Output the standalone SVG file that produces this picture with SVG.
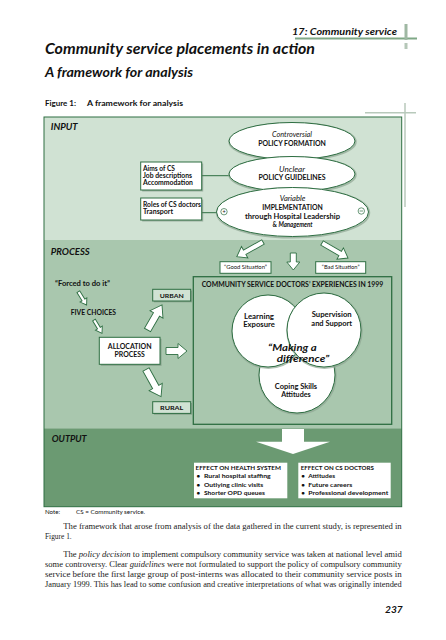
<svg xmlns="http://www.w3.org/2000/svg" width="446" height="640" viewBox="0 0 446 640">
<style>
.sans{font-family:"Lato","Liberation Sans",sans-serif;font-weight:bold;fill:#111}
.it{font-style:italic}
.norm{font-weight:normal}
.serif{font-family:"Liberation Serif","DejaVu Serif",serif;fill:#222;font-size:7.4px}
.box{fill:#fff;stroke:#2e6e42;stroke-width:1}
.shadow{fill:#5f7564;opacity:.45}
.arrow{fill:#fff;stroke:#2e6e42;stroke-width:.9;stroke-linejoin:miter}
.conn{stroke:#2e6e42;stroke-width:1;fill:none}
.ell{fill:#fff;stroke:#2e6e42;stroke-width:1}
.halo{fill:none;stroke:#8fa693;stroke-width:2.5;opacity:.7}
.c{text-anchor:middle}
</style>
<rect width="446" height="640" fill="#fff"/>
<!-- header -->
<g id="header">
<line x1="295" y1="38.5" x2="417" y2="38.5" stroke="#7fa886" stroke-width="2"/>
<rect x="404.5" y="24" width="3" height="16" fill="#9fb8a3"/>
<rect x="404.5" y="43" width="3" height="6" fill="#b5c7b8"/>
<text class="sans it" x="292" y="35" font-size="10" textLength="105" lengthAdjust="spacingAndGlyphs">17:  Community service</text>
<text class="sans it" x="45" y="54" font-size="16" textLength="270" lengthAdjust="spacingAndGlyphs">Community service placements in action</text>
<text class="sans it" x="45" y="77" font-size="13" textLength="148" lengthAdjust="spacingAndGlyphs">A framework for analysis</text>
<text class="sans" x="45" y="106" font-size="7" textLength="31" lengthAdjust="spacingAndGlyphs">Figure 1:</text>
<text class="sans" x="87" y="106" font-size="7" textLength="96" lengthAdjust="spacingAndGlyphs">A framework for analysis</text>
<line x1="365" y1="112.7" x2="416" y2="112.7" stroke="#b8c9bb" stroke-width="1.5"/>
<line x1="405" y1="103" x2="405" y2="207" stroke="#b8c9bb" stroke-width="1.5"/>
</g>
<!-- bands -->
<g id="figure-frame">
<rect x="44" y="117" width="357.7" height="123" fill="#d0e2d3"/>
<rect x="44" y="240" width="357.7" height="188.3" fill="#a9c7ae"/>
<rect x="44" y="428.3" width="357.7" height="78.4" fill="#6b9a72"/>
<rect x="44" y="117" width="357.7" height="389.7" fill="none" stroke="#2e6e42" stroke-width="1"/>
<text class="sans it" x="50.7" y="130" font-size="9" textLength="27" lengthAdjust="spacingAndGlyphs">INPUT</text>
<text class="sans it" x="50.7" y="255" font-size="9" textLength="39" lengthAdjust="spacingAndGlyphs">PROCESS</text>
<text class="sans it" x="51.7" y="442.3" font-size="9" textLength="35" lengthAdjust="spacingAndGlyphs">OUTPUT</text>
</g>
<!-- connectors -->
<g id="connectors">
<line class="conn" x1="201.7" y1="175.7" x2="229" y2="175.7"/>
<line class="conn" x1="201.7" y1="212.7" x2="218" y2="212.7"/>
<polygon class="arrow" transform="translate(263,242) rotate(150.8)" points="0,-2.5 21,-2.5 21,-6.5 30,0 21,6.5 21,2.5 0,2.5"/>
<polygon class="arrow" transform="translate(293.3,253) rotate(90)" points="0,-3 9,-3 9,-6.5 17,0 9,6.5 9,3 0,3"/>
<polygon class="arrow" transform="translate(322,243) rotate(30)" points="0,-2.5 21,-2.5 21,-6.5 30,0 21,6.5 21,2.5 0,2.5"/>
<polygon class="arrow" transform="translate(78.3,291.7) rotate(58)" points="0,-1.6 9.7,-1.6 9.7,-4 15.7,0 9.7,4 9.7,1.6 0,1.6"/>
<polygon class="arrow" transform="translate(94,320) rotate(59)" points="0,-1.6 9.5,-1.6 9.5,-4 15.5,0 9.5,4 9.5,1.6 0,1.6"/>
<polygon class="arrow" transform="translate(147.5,330) rotate(-60)" points="0,-3.5 18,-3.5 18,-7.5 29,0 18,7.5 18,3.5 0,3.5"/>
<polygon class="arrow" transform="translate(166,351) rotate(0)" points="0,-3.5 12,-3.5 12,-7.5 21,0 12,7.5 12,3.5 0,3.5"/>
<polygon class="arrow" transform="translate(146,369.5) rotate(61)" points="0,-3.5 20,-3.5 20,-7.5 31,0 20,7.5 20,3.5 0,3.5"/>
<polygon fill="#fff" points="282,429 304,429 304,441.7 330,441.7 293,454 256,441.7 282,441.7"/>
</g>
<!-- input boxes -->
<g id="aims">
<rect class="shadow" x="142.2" y="163.5" width="61" height="28"/>
<rect class="box" x="140.7" y="162" width="61" height="28"/>
<text class="sans" font-size="6.5" x="143" y="170.7" textLength="32" lengthAdjust="spacingAndGlyphs">Aims of CS</text>
<text class="sans" font-size="6.5" x="143" y="177.9" textLength="49" lengthAdjust="spacingAndGlyphs">Job descriptions</text>
<text class="sans" font-size="6.5" x="143" y="185.1" textLength="50" lengthAdjust="spacingAndGlyphs">Accommodation</text>
</g>
<g id="roles">
<rect class="shadow" x="142.2" y="199.5" width="61" height="22"/>
<rect class="box" x="140.7" y="198" width="61" height="22"/>
<text class="sans" font-size="6.5" x="143" y="206.7" textLength="58" lengthAdjust="spacingAndGlyphs">Roles of CS doctors</text>
<text class="sans" font-size="6.5" x="143" y="214" textLength="30" lengthAdjust="spacingAndGlyphs">Transport</text>
</g>
<g id="policy-formation">
<ellipse class="halo" cx="292.5" cy="141.8" rx="63" ry="18.5"/>
<ellipse class="ell" cx="292" cy="141" rx="63" ry="18.5"/>
<text class="sans it norm c" font-size="7" x="292" y="136.7" textLength="40" lengthAdjust="spacingAndGlyphs">Controversial</text>
<text class="sans c" font-size="6.5" x="292" y="145.7" textLength="67.7" lengthAdjust="spacingAndGlyphs">POLICY FORMATION</text>
</g>
<g id="policy-guidelines">
<ellipse class="halo" cx="292.5" cy="174.8" rx="63" ry="17.5"/>
<ellipse class="ell" cx="292" cy="174" rx="63" ry="17.5"/>
<text class="sans it norm c" font-size="7" x="292" y="171.7" textLength="26" lengthAdjust="spacingAndGlyphs">Unclear</text>
<text class="sans c" font-size="6.5" x="292" y="180" textLength="67" lengthAdjust="spacingAndGlyphs">POLICY GUIDELINES</text>
</g>
<g id="implementation">
<ellipse class="halo" cx="293" cy="212.8" rx="76" ry="24.5"/>
<ellipse class="ell" cx="292.5" cy="212" rx="76" ry="24.5"/>
<text class="sans it norm c" font-size="7" x="292.5" y="201" textLength="25.7" lengthAdjust="spacingAndGlyphs">Variable</text>
<text class="sans c" font-size="6.8" x="292.5" y="210" textLength="60.7" lengthAdjust="spacingAndGlyphs">IMPLEMENTATION</text>
<text class="sans c" font-size="6.8" x="292.5" y="219" textLength="95" lengthAdjust="spacingAndGlyphs">through Hospital Leadership</text>
<text class="sans c" font-size="6.8" x="292.5" y="227.3" textLength="40" lengthAdjust="spacingAndGlyphs">&amp; <tspan class="it">Management</tspan></text>
<circle cx="224" cy="211.7" r="3.2" fill="#fff" stroke="#2e6e42" stroke-width=".7"/>
<text class="sans c norm" font-size="5.5" x="224" y="213.6" fill="#2e6e42">+</text>
<circle cx="361.3" cy="211" r="3.2" fill="#fff" stroke="#2e6e42" stroke-width=".7"/>
<line x1="359.6" y1="211" x2="363" y2="211" stroke="#2e6e42" stroke-width=".7"/>
</g>
<!-- situation boxes -->
<g id="good-situation">
<rect class="box" x="220" y="261.7" width="51" height="11.6"/>
<text class="sans norm c" font-size="4.8" x="245.5" y="269.3" textLength="43" lengthAdjust="spacingAndGlyphs">“Good Situation”</text>
</g>
<g id="bad-situation">
<rect class="box" x="315.7" y="261.7" width="50" height="11.6"/>
<text class="sans norm c" font-size="4.8" x="340.7" y="269.3" textLength="37.7" lengthAdjust="spacingAndGlyphs">“Bad Situation”</text>
</g>
<!-- process -->
<g id="forced">
<text class="sans" font-size="6.5" x="55" y="286" textLength="55" lengthAdjust="spacingAndGlyphs">“Forced to do it”</text>
</g>
<g id="five-choices">
<text class="sans" font-size="6.5" x="70.7" y="315" textLength="45.3" lengthAdjust="spacingAndGlyphs">FIVE CHOICES</text>
</g>
<g id="allocation">
<rect class="shadow" x="100.8" y="338.8" width="60.7" height="27"/>
<rect class="box" x="99.3" y="337.3" width="60.7" height="27"/>
<text class="sans c" font-size="6.5" x="129.7" y="349.3" textLength="43.7" lengthAdjust="spacingAndGlyphs">ALLOCATION</text>
<text class="sans c" font-size="6.5" x="129.7" y="357.3" textLength="30.3" lengthAdjust="spacingAndGlyphs">PROCESS</text>
</g>
<g id="urban">
<rect class="shadow" x="154" y="290.6" width="38" height="11.7"/>
<rect x="152.7" y="289.3" width="38" height="11.7" fill="#d0e2d3" stroke="#2e6e42" stroke-width="1"/>
<text class="sans c" font-size="6.3" x="171.7" y="297.8" textLength="24" lengthAdjust="spacingAndGlyphs">URBAN</text>
</g>
<g id="rural">
<rect class="shadow" x="154" y="403" width="38" height="11.7"/>
<rect x="152.7" y="401.7" width="38" height="11.7" fill="#d0e2d3" stroke="#2e6e42" stroke-width="1"/>
<text class="sans c" font-size="6.3" x="171.7" y="410.2" textLength="23.3" lengthAdjust="spacingAndGlyphs">RURAL</text>
</g>
<g id="cs-experiences">
<rect x="193.3" y="276.7" width="198.4" height="147.6" fill="none" stroke="#2e6e42" stroke-width="1.3"/>
<text class="sans" font-size="6.7" x="201.7" y="286.7" textLength="181.6" lengthAdjust="spacingAndGlyphs">COMMUNITY SERVICE DOCTORS’ EXPERIENCES IN 1999</text>
</g>
<g id="coping">
<circle class="halo" cx="297.5" cy="375.7" r="38"/>
<circle class="ell" cx="297" cy="375" r="38"/>
<text class="sans c" font-size="6.8" x="296" y="389" textLength="42.3" lengthAdjust="spacingAndGlyphs">Coping Skills</text>
<text class="sans c" font-size="6.8" x="296" y="397" textLength="29.3" lengthAdjust="spacingAndGlyphs">Attitudes</text>
</g>
<g id="learning">
<circle class="halo" cx="268.5" cy="331.7" r="36"/>
<circle class="ell" cx="268" cy="331" r="36"/>
<text class="sans c" font-size="6.8" x="259" y="319.3" textLength="30" lengthAdjust="spacingAndGlyphs">Learning</text>
<text class="sans c" font-size="6.8" x="259" y="327.3" textLength="31.7" lengthAdjust="spacingAndGlyphs">Exposure</text>
</g>
<g id="supervision">
<circle class="halo" cx="324.5" cy="330.7" r="37"/>
<circle class="ell" cx="324" cy="330" r="37"/>
<text class="sans c" font-size="6.8" x="331.7" y="317.3" textLength="40" lengthAdjust="spacingAndGlyphs">Supervision</text>
<text class="sans c" font-size="6.8" x="331.7" y="326" textLength="40.7" lengthAdjust="spacingAndGlyphs">and Support</text>
</g>
<g id="making-difference">
<text class="sans it" font-size="10" x="268" y="351" textLength="48.7" lengthAdjust="spacingAndGlyphs">“Making a</text>
<text class="sans it" font-size="10" x="276.7" y="361.7" textLength="52.6" lengthAdjust="spacingAndGlyphs">difference”</text>
</g>
<!-- output -->
<g id="effect-health">
<rect x="194" y="462.7" width="93.3" height="35.6" fill="#fff"/>
<text class="sans" font-size="6.3" x="195.5" y="470" textLength="85.5" lengthAdjust="spacingAndGlyphs">EFFECT ON HEALTH SYSTEM</text>
<text class="sans" font-size="6.3" x="196.5" y="478.3">•</text>
<text class="sans" font-size="6.3" x="204" y="478.3" textLength="66.7" lengthAdjust="spacingAndGlyphs">Rural hospital staffing</text>
<text class="sans" font-size="6.3" x="196.5" y="486.7">•</text>
<text class="sans" font-size="6.3" x="204" y="486.7" textLength="59.3" lengthAdjust="spacingAndGlyphs">Outlying clinic visits</text>
<text class="sans" font-size="6.3" x="196.5" y="495">•</text>
<text class="sans" font-size="6.3" x="204" y="495" textLength="61" lengthAdjust="spacingAndGlyphs">Shorter OPD queues</text>
</g>
<g id="effect-doctors">
<rect x="298.3" y="462.7" width="92.4" height="35.6" fill="#fff"/>
<text class="sans" font-size="6.3" x="300.7" y="470" textLength="73.3" lengthAdjust="spacingAndGlyphs">EFFECT ON CS DOCTORS</text>
<text class="sans" font-size="6.3" x="301.2" y="478.3">•</text>
<text class="sans" font-size="6.3" x="308.3" y="478.3" textLength="26.7" lengthAdjust="spacingAndGlyphs">Attitudes</text>
<text class="sans" font-size="6.3" x="301.2" y="486.7">•</text>
<text class="sans" font-size="6.3" x="308.3" y="486.7" textLength="44" lengthAdjust="spacingAndGlyphs">Future careers</text>
<text class="sans" font-size="6.3" x="301.2" y="495">•</text>
<text class="sans" font-size="6.3" x="308.3" y="495" textLength="80" lengthAdjust="spacingAndGlyphs">Professional development</text>
</g>
<!-- body text -->
<g id="body">
<text class="sans norm" font-size="5.5" x="45" y="514.3" textLength="15" lengthAdjust="spacingAndGlyphs">Note:</text>
<text class="sans norm" font-size="5.5" x="76" y="514.3" textLength="69" lengthAdjust="spacingAndGlyphs">CS = Community service.</text>
<text class="serif" x="63.3" y="529.3" textLength="338.4" lengthAdjust="spacingAndGlyphs">The framework that arose from analysis of the data gathered in the current study, is represented in</text>
<text class="serif" x="45" y="539.3" textLength="26.7" lengthAdjust="spacingAndGlyphs">Figure 1.</text>
<text class="serif" x="63.3" y="556.7" textLength="338.4" lengthAdjust="spacingAndGlyphs">The <tspan font-style="italic">policy decision</tspan> to implement compulsory community service was taken at national level amid</text>
<text class="serif" x="45" y="566.7" textLength="356.7" lengthAdjust="spacingAndGlyphs">some controversy. Clear <tspan font-style="italic">guidelines</tspan> were not formulated to support the policy of compulsory community</text>
<text class="serif" x="45" y="576.7" textLength="356.7" lengthAdjust="spacingAndGlyphs">service before the first large group of post-interns was allocated to their community service posts in</text>
<text class="serif" x="45" y="586.7" textLength="356.7" lengthAdjust="spacingAndGlyphs">January 1999. This has lead to some confusion and creative interpretations of what was originally intended</text>
<text class="sans it" font-size="10" x="385" y="613.3" textLength="17.7" lengthAdjust="spacingAndGlyphs">237</text>
</g>
</svg>
